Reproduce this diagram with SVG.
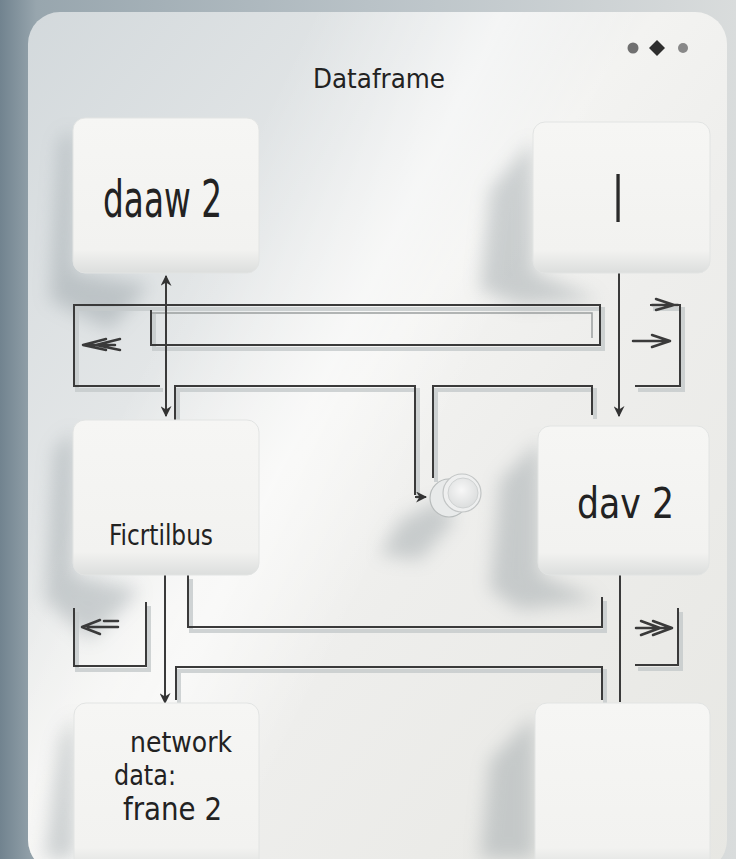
<svg xmlns="http://www.w3.org/2000/svg" width="736" height="859" viewBox="0 0 736 859">
<defs>
  <linearGradient id="bg" x1="0" y1="0" x2="1" y2="0">
    <stop offset="0" stop-color="#71838f"/>
    <stop offset="0.05" stop-color="#98a6ae"/>
    <stop offset="0.5" stop-color="#b9c2c7"/>
    <stop offset="1" stop-color="#d9dcdc"/>
  </linearGradient>
  <linearGradient id="panel" x1="0" y1="0" x2="1" y2="1">
    <stop offset="0" stop-color="#d3d9dc"/>
    <stop offset="0.3" stop-color="#e3e6e7"/>
    <stop offset="0.45" stop-color="#f3f3f1"/>
    <stop offset="0.6" stop-color="#eeeeec"/>
    <stop offset="1" stop-color="#e7e7e3"/>
  </linearGradient>
  <linearGradient id="streak" x1="0" y1="0" x2="1" y2="0.6">
    <stop offset="0.3" stop-color="#ffffff" stop-opacity="0"/>
    <stop offset="0.5" stop-color="#ffffff" stop-opacity="0.55"/>
    <stop offset="0.65" stop-color="#ffffff" stop-opacity="0"/>
  </linearGradient>
  <linearGradient id="box" x1="0" y1="0" x2="0" y2="1">
    <stop offset="0" stop-color="#f6f6f4"/>
    <stop offset="0.85" stop-color="#f2f2f0"/>
    <stop offset="1" stop-color="#dcdedd"/>
  </linearGradient>
  <radialGradient id="knobface" cx="0.45" cy="0.4" r="0.6">
    <stop offset="0" stop-color="#f7f7f7"/>
    <stop offset="1" stop-color="#dcdede"/>
  </radialGradient>
  <filter id="blur" x="-50%" y="-50%" width="200%" height="200%">
    <feGaussianBlur stdDeviation="9"/>
  </filter>
  <marker id="ah" viewBox="0 0 10 10" refX="9" refY="5" markerWidth="11" markerHeight="11" orient="auto-start-reverse" markerUnits="userSpaceOnUse">
    <path d="M0,0 L10,5 L0,10 L3,5 z" fill="#333"/>
  </marker>
  <style>
    .hand { font-family: "Liberation Sans Narrow", "DejaVu Sans Condensed", "Liberation Sans", sans-serif; fill: #222; }
    .ln { fill: none; stroke: #3a3a3a; stroke-width: 2; stroke-linejoin: miter; }
    .sh { fill: none; stroke: #c4c9ca; stroke-width: 4; opacity: 0.8; }
    .box { fill: url(#box); stroke: #e2e4e3; stroke-width: 1; }
    .shadow { fill: #7f8a90; opacity: 0.35; filter: url(#blur); }
    .sym { fill: none; stroke: #3a3a3a; stroke-width: 2.5; stroke-linecap: round; stroke-linejoin: round; }
  </style>
</defs>

<rect x="0" y="0" width="736" height="859" fill="url(#bg)"/>
<rect x="28" y="12" width="699" height="860" rx="32" fill="url(#panel)"/>
<rect x="28" y="12" width="699" height="860" rx="32" fill="url(#streak)"/>

<!-- shadows -->
<g id="shadows">
  <path class="shadow" d="M60,140 L73,130 L73,272 L150,285 L110,330 L50,300 z"/>
  <path class="shadow" d="M490,190 L533,140 L533,272 L600,300 L520,305 L480,290 z"/>
  <path class="shadow" d="M55,450 L73,430 L73,575 L140,590 L90,640 L45,600 z"/>
  <path class="shadow" d="M500,480 L540,440 L540,575 L600,600 L520,610 L490,590 z"/>
  <path class="shadow" d="M60,740 L75,715 L75,859 L45,859 z"/>
  <path class="shadow" d="M490,760 L535,715 L535,859 L480,859 z"/>
  <path class="shadow" d="M400,520 L440,500 L455,520 L420,560 L380,555 z"/>
</g>

<!-- top right dots -->
<g id="dots">
  <circle cx="633" cy="48" r="5.5" fill="#707070"/>
  <path d="M657,40 L665,48 L657,56 L649,48 z" fill="#2e2e2e"/>
  <circle cx="683" cy="48" r="5" fill="#888"/>
</g>

<text class="hand" x="313" y="88" font-size="26" textLength="132" lengthAdjust="spacingAndGlyphs">Dataframe</text>

<!-- connectors -->
<g id="connectors">
  <g transform="translate(3,4)">
    <path class="sh" d="M160,386 H74 V305 H600 V345 H151 V310"/>
    <path class="sh" d="M175,420 V386 H415 V495"/>
    <path class="sh" d="M433,478 V386 H592 V415"/>
    <path class="sh" d="M650,305 H680 V386 H635"/>
    <path class="sh" d="M188,575 V627 H602 V597"/>
    <path class="sh" d="M176,700 V667 H602 V700"/>
    <path class="sh" d="M74,608 V666 H146 V602"/>
    <path class="sh" d="M678,608 V665 H635"/>
  </g>
  <path d="M151,313 H592 V338" fill="none" stroke="#9a9e9f" stroke-width="1.5"/>
  <path class="ln" d="M160,386 H74 V305 H600 V345 H151 V310"/>
  <path class="ln" d="M175,420 V386 H415 V495"/>
  <path class="ln" d="M433,478 V386 H592 V415"/>
  <path class="ln" d="M650,305 H680 V386 H635"/>
  <path class="ln" d="M166,276 V416" marker-start="url(#ah)" marker-end="url(#ah)"/>
  <path class="ln" d="M619,272 V416" marker-end="url(#ah)"/>
  <path class="ln" d="M415,497 H426" marker-end="url(#ah)"/>

  <path class="ln" d="M188,575 V627 H602 V597"/>
  <path class="ln" d="M176,700 V667 H602 V700"/>
  <path class="ln" d="M165,575 V703" marker-end="url(#ah)"/>
  <path class="ln" d="M620,575 V702" stroke-width="2.5"/>
  <path class="ln" d="M74,608 V666 H146 V602"/>
  <path class="ln" d="M678,608 V665 H635"/>

  <path class="sym" d="M120,339 L96,345 L120,350 M106,339 L83,345 L106,350 M84,345 H115"/>
  <path class="sym" d="M656,299 L674,305 L656,310 M652,305 H678"/>
  <path class="sym" d="M652,335 L670,341 L652,347 M633,341 H668"/>
  <path class="sym" d="M100,620 L82,627 L100,634 M88,627 H118 M104,621 H118"/>
  <path class="sym" d="M653,621 L672,628 L653,635 M641,621 L660,628 L641,635 M636,628 H668"/>
</g>

<!-- knob -->
<g id="knob">
  <path d="M446,479 L458,476 L467,510 L455,516 z" fill="#e6e8e8"/>
  <circle cx="449" cy="498" r="19" fill="#e8eaea" stroke="#b8bcbc" stroke-width="1.2"/>
  <circle cx="462" cy="493" r="19" fill="#eeefef" stroke="#c2c5c5" stroke-width="1.2"/>
  <circle cx="463" cy="493" r="15" fill="url(#knobface)" stroke="#cfd2d2"/>
</g>

<!-- nodes -->
<g id="node-daaw2">
  <rect class="box" x="73" y="118" width="186" height="155" rx="12"/>
  <text class="hand" x="103" y="217" font-size="52" textLength="119" lengthAdjust="spacingAndGlyphs">daaw 2</text>
</g>
<g id="node-I">
  <rect class="box" x="533" y="122" width="177" height="151" rx="12"/>
  <text x="618" y="222" font-size="66" text-anchor="middle" font-family="Open Sans, Liberation Sans, sans-serif" font-weight="300" fill="#2a2a2a">I</text>
</g>
<g id="node-ficrtilbus">
  <rect class="box" x="73" y="420" width="186" height="155" rx="12"/>
  <text class="hand" x="109" y="545" font-size="28" textLength="104" lengthAdjust="spacingAndGlyphs">Ficrtilbus</text>
</g>
<g id="node-dav2">
  <rect class="box" x="538" y="426" width="171" height="149" rx="12"/>
  <text class="hand" x="577" y="518" font-size="42" textLength="97" lengthAdjust="spacingAndGlyphs">dav 2</text>
</g>
<g id="node-network">
  <rect class="box" x="74" y="703" width="185" height="170" rx="12"/>
  <text class="hand" x="130" y="752" font-size="28" textLength="102" lengthAdjust="spacingAndGlyphs">network</text>
  <text class="hand" x="114" y="785" font-size="28" textLength="62" lengthAdjust="spacingAndGlyphs">data:</text>
  <text class="hand" x="123" y="820" font-size="32" textLength="99" lengthAdjust="spacingAndGlyphs">frane 2</text>
</g>
<g id="node-empty">
  <rect class="box" x="535" y="703" width="175" height="170" rx="12"/>
</g>
</svg>
